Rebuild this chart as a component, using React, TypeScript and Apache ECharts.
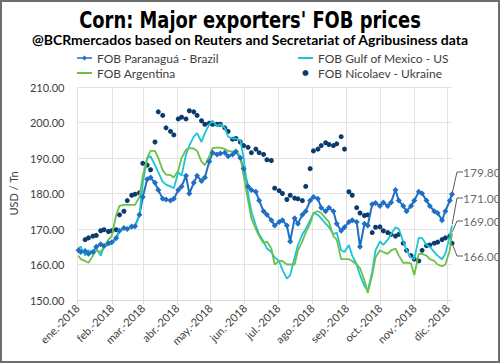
import React, { useEffect, useRef } from 'react';
import * as echarts from 'echarts';

const titleText = "Corn: Major exporters' FOB prices";
const subtitleText = '@BCRmercados based on Reuters and Secretariat of Agribusiness data';
const yAxisName = 'USD / Tn';

const monthLabels = ['ene.-2018', 'feb.-2018', 'mar.-2018', 'abr.-2018', 'may.-2018', 'jun.-2018', 'jul.-2018', 'ago.-2018', 'sep.-2018', 'oct.-2018', 'nov.-2018', 'dic.-2018'];
const firstDay = '2018-01-01';
const lastDay = '2018-12-05';

const seriesNames = ['FOB Paranaguá - Brazil', 'FOB Gulf of Mexico - US', 'FOB Argentina', 'FOB Nicolaev - Ukraine'];

const dates = [
  '2018-01-02', '2018-01-04', '2018-01-08', '2018-01-11', '2018-01-15', '2018-01-18', '2018-01-22', '2018-01-25', '2018-01-29', '2018-02-01',
  '2018-02-05', '2018-02-08', '2018-02-12', '2018-02-15', '2018-02-19', '2018-02-22', '2018-02-26', '2018-03-01', '2018-03-05', '2018-03-08',
  '2018-03-12', '2018-03-15', '2018-03-19', '2018-03-22', '2018-03-26', '2018-03-29', '2018-04-02', '2018-04-05', '2018-04-09', '2018-04-12',
  '2018-04-16', '2018-04-19', '2018-04-23', '2018-04-26', '2018-04-30', '2018-05-03', '2018-05-07', '2018-05-10', '2018-05-14', '2018-05-17',
  '2018-05-21', '2018-05-24', '2018-05-28', '2018-05-31', '2018-06-04', '2018-06-07', '2018-06-11', '2018-06-14', '2018-06-18', '2018-06-21',
  '2018-06-25', '2018-06-28', '2018-07-02', '2018-07-05', '2018-07-09', '2018-07-12', '2018-07-16', '2018-07-19', '2018-07-23', '2018-07-26',
  '2018-07-30', '2018-08-02', '2018-08-06', '2018-08-09', '2018-08-13', '2018-08-16', '2018-08-20', '2018-08-23', '2018-08-27', '2018-08-30',
  '2018-09-03', '2018-09-06', '2018-09-10', '2018-09-13', '2018-09-17', '2018-09-20', '2018-09-24', '2018-09-27', '2018-10-01', '2018-10-04',
  '2018-10-08', '2018-10-11', '2018-10-15', '2018-10-18', '2018-10-22', '2018-10-25', '2018-10-29', '2018-11-01', '2018-11-05', '2018-11-08',
  '2018-11-12', '2018-11-15', '2018-11-19', '2018-11-22', '2018-11-26', '2018-11-29', '2018-12-03', '2018-12-05',
];

const brazil = [
  164, 163.5, 163.8, 163, 163.5, 165, 165.7, 165.2, 166, 166.3,
  167.5, 169.5, 170.3, 170, 170.7, 170.8, 174, 179, 184, 184.5,
  183, 181, 178.5, 178.3, 178, 178.5, 181, 182, 185, 180,
  183, 185, 183.5, 184.5, 189, 191.5, 191, 191.3, 191.5, 190.5,
  191, 191.8, 190, 187, 182, 181, 180.5, 178, 175, 174,
  172.5, 171, 172, 172.5, 171, 166.5, 173, 171.5, 174, 175,
  178, 179, 178.5, 176, 175, 176, 175, 171.5, 169.5, 170.5,
  172, 172.5, 172, 165, 171.5, 171, 177, 177.3, 176.5, 177.5,
  176.5, 177.5, 181, 178, 176.5, 175, 176.5, 178, 180.5, 180,
  178, 176.5, 175, 174.5, 172.5, 175, 178, 179.8,
];

const us = [
  164.5, 165, 162.5, 164, 163.5, 164.5, 162.5, 165, 165.5, 166,
  167, 169.5, 170, 170.3, 170.3, 170.5, 174, 183, 190, 190.5,
  188, 186, 183.3, 182.5, 182, 181.5, 186, 185, 191, 193.5,
  196, 197, 194.5, 197, 199.5, 200.5, 199, 199.5, 198.5, 196,
  195.5, 195.5, 195, 190, 180, 175, 171, 168.5, 166.5, 164.5,
  163.5, 162, 161, 158.5, 156, 157, 162, 165.5, 168.5, 170,
  172.5, 174.5, 174, 173, 171.5, 170.5, 168.5, 169, 164, 163.5,
  165.5, 162.5, 160, 157, 154, 152.5, 158, 164, 166.5, 165.5,
  167, 168.5, 170.5, 170, 166.5, 164, 162, 161.5, 167.5, 167.5,
  165.5, 165, 163.5, 162.5, 161.5, 163, 168, 171,
];

const argentina = [
  162.5, 161.5, 161, 160.5, 162.5, 164, 163.5, 165, 167, 168,
  174, 176.5, 176.8, 176.8, 176.8, 176.8, 179, 185, 190, 192,
  192, 190, 186.5, 185.3, 185.2, 184.5, 186.5, 190, 192.3, 192.8,
  192.7, 192, 189, 188, 190.5, 192.8, 192.9, 192.9, 192.5, 192,
  191.8, 192, 190.5, 185, 178, 173, 170, 168, 166, 166.5,
  164.5, 160, 161, 161, 160, 160, 160, 164, 166.5, 169,
  171.5, 174.5, 175, 174.5, 173, 172, 168, 167, 161.5, 161.5,
  161.5, 161, 160, 159, 155.5, 152, 157, 162, 164, 163.5,
  163, 164, 164.5, 162.5, 160.5, 160.5, 160.3, 157, 163, 163,
  162.5, 161.5, 161, 160, 159.5, 160, 164, 169,
];

const ukraine = [
  null, null, 167, 167.5, 168, 168.2, 169.5, 169.8, 169.3, 169.5,
  169.8, 174, 175, 178, 179.5, 179.8, 180.2, 188.5, 188, 186.7,
  194.5, 203, 202, 198.5, 197.5, 196.5, 201, 201.5, 201, 203.3,
  203, 202, 200.5, 199.5, 199.8, 199.5, 199.5, 199.5, 198.5, 197.5,
  195.3, 195.5, 194.5, 193.5, 193, 191.5, 192.5, 191.5, 191, 189.5,
  189.3, 181.5, 180.8, 180, 178.3, 179.5, 178.7, 178.5, 178, 182,
  187, 192, 192.5, 193.5, 194.3, 193.8, 193.5, 194, 196, 192.5,
  180.5, 179.5, 176, 174.5, 173.8, 174, 169, 170.5, 170.6, 169.5,
  169, 168.5, 168, 168.5, 166, 164, 162.5, 161.5, 161, 164,
  165.3, 165.5, 166, 166.3, 167, 167.5, 168, 166,
];

const colors = ['#1F6FC5', '#1BC4D6', '#6CC04A', '#0C3C6E'];

function buildDays(start: string, end: string): string[] {
  const out: string[] = [];
  const d = new Date(start + 'T00:00:00Z');
  const e = new Date(end + 'T00:00:00Z');
  while (d.getTime() <= e.getTime()) {
    out.push(d.toISOString().slice(0, 10));
    d.setUTCDate(d.getUTCDate() + 1);
  }
  return out;
}

function pairs(values: (number | null)[]) {
  const out: [string, number][] = [];
  values.forEach((v, i) => {
    if (v !== null && v !== undefined) out.push([dates[i], v]);
  });
  return out;
}

function lastOf(values: (number | null)[]): [string, number] {
  const p = pairs(values);
  return p[p.length - 1];
}

const FONT = "Lato, 'Open Sans', sans-serif";
const TXT = '#404040';
const LINE_ICON = 'path://M0,2 L15,2 L15,4 L0,4 Z';
const MARKER_LINE_ICON = 'path://M0,2.3 L15,2.3 L15,3.7 L0,3.7 Z M7.5,0.5 L10,3 L7.5,5.5 L5,3 Z';

export default function App() {
  const ref = useRef<HTMLDivElement>(null);
  useEffect(() => {
    if (!ref.current) return;
    const chart = echarts.init(ref.current, undefined, { renderer: 'svg' });
    const days = buildDays(firstDay, lastDay);
    const isMonthStart = (_i: number, v: string) => typeof v === 'string' && v.slice(8) === '01';
    const endLabelY = [172, 198, 221, 256];
    const endPoints = [lastOf(brazil), lastOf(us), lastOf(argentina), lastOf(ukraine)];

    const option: any = {
      animation: false,
      backgroundColor: '#ffffff',
      title: [
        {
          text: subtitleText,
          left: 'center',
          top: 27,
          textStyle: { fontFamily: FONT, fontWeight: 'bold', fontSize: 14, color: '#000' },
        },
      ],
      legend: [
        {
          left: 72,
          top: 47,
          orient: 'vertical',
          itemWidth: 15,
          itemHeight: 6,
          itemGap: 3,
          data: [
            { name: seriesNames[0], icon: MARKER_LINE_ICON },
            { name: seriesNames[2], icon: LINE_ICON },
          ],
          textStyle: { fontFamily: FONT, fontSize: 12, color: TXT },
        },
        {
          left: 293,
          top: 47,
          orient: 'vertical',
          itemWidth: 15,
          itemHeight: 6,
          itemGap: 3,
          data: [
            { name: seriesNames[1], icon: LINE_ICON },
            { name: seriesNames[3], icon: 'circle' },
          ],
          textStyle: { fontFamily: FONT, fontSize: 12, color: TXT },
        },
      ],
      grid: { left: 57, right: 48, top: 87, bottom: 63, containLabel: false },
      xAxis: {
        type: 'category',
        data: days,
        boundaryGap: false,
        axisLine: { show: true, lineStyle: { color: '#d9d9d9', width: 1 } },
        axisTick: { show: true, interval: isMonthStart, length: 4, lineStyle: { color: '#d9d9d9' } },
        splitLine: { show: true, interval: isMonthStart, lineStyle: { color: '#e3e3e3', width: 1 } },
        axisLabel: {
          interval: isMonthStart,
          rotate: 45,
          margin: 6,
          fontFamily: FONT,
          fontSize: 11,
          color: TXT,
          formatter: (v: string) => monthLabels[parseInt(v.slice(5, 7), 10) - 1],
        },
      },
      yAxis: {
        type: 'value',
        min: 150,
        max: 210,
        interval: 10,
        name: yAxisName,
        nameLocation: 'middle',
        nameRotate: 90,
        nameGap: 42,
        nameTextStyle: { fontFamily: FONT, fontSize: 11, color: TXT },
        axisLine: { show: false },
        axisTick: { show: false },
        splitLine: { show: true, lineStyle: { color: '#e3e3e3', width: 1 } },
        axisLabel: {
          margin: 13,
          fontFamily: FONT,
          fontSize: 11,
          color: TXT,
          formatter: (v: number) => v.toFixed(2),
        },
      },
      series: [
        {
          name: seriesNames[0],
          type: 'line',
          data: pairs(brazil),
          color: colors[0],
          symbol: 'diamond',
          symbolSize: 6,
          showSymbol: true,
          showAllSymbol: true,
          lineStyle: { width: 2, color: colors[0] },
          itemStyle: { color: colors[0], opacity: 1 },
        },
        {
          name: seriesNames[1],
          type: 'line',
          data: pairs(us),
          color: colors[1],
          symbol: 'none',
          lineStyle: { width: 1.8, color: colors[1] },
          itemStyle: { color: colors[1] },
        },
        {
          name: seriesNames[2],
          type: 'line',
          data: pairs(argentina),
          color: colors[2],
          symbol: 'none',
          lineStyle: { width: 1.8, color: colors[2] },
          itemStyle: { color: colors[2] },
        },
        {
          name: seriesNames[3],
          type: 'scatter',
          data: pairs(ukraine),
          color: colors[3],
          symbol: 'circle',
          symbolSize: 5,
          itemStyle: { color: colors[3], opacity: 1 },
        },
        {
          name: 'endLabels',
          type: 'scatter',
          data: endPoints,
          symbolSize: 2,
          itemStyle: { color: 'rgba(0,0,0,0)' },
          silent: true,
          z: 10,
          label: {
            show: true,
            formatter: (p: any) => Number(p.value[1]).toFixed(2),
            fontFamily: FONT,
            fontSize: 12,
            color: TXT,
          },
          labelLine: { show: true, length2: 6, lineStyle: { color: '#595959', width: 1 } },
          labelLayout: (p: any) => ({ x: 463, y: endLabelY[p.dataIndex], align: 'left', verticalAlign: 'middle' }),
        },
      ],
      graphic: [
        {
          type: 'text',
          x: 250,
          y: 8,
          scaleX: 0.865,
          silent: true,
          style: {
            text: titleText,
            fontFamily: "'DejaVu Sans Condensed', 'Liberation Sans', sans-serif",
            fontWeight: 'bold',
            fontSize: 23,
            fill: '#000',
            textAlign: 'center',
            textVerticalAlign: 'top',
          },
        },
        {
          type: 'rect',
          silent: true,
          z: 100,
          shape: { x: 1, y: 1, width: 498, height: 361 },
          style: { fill: 'none', stroke: '#6e6e6e', lineWidth: 2 },
        },
      ],
    };
    chart.setOption(option);
    return () => chart.dispose();
  }, []);
  return <div ref={ref} style={{ position: 'absolute', left: 0, top: 0, width: 500, height: 363, background: '#fff' }} />;
}
